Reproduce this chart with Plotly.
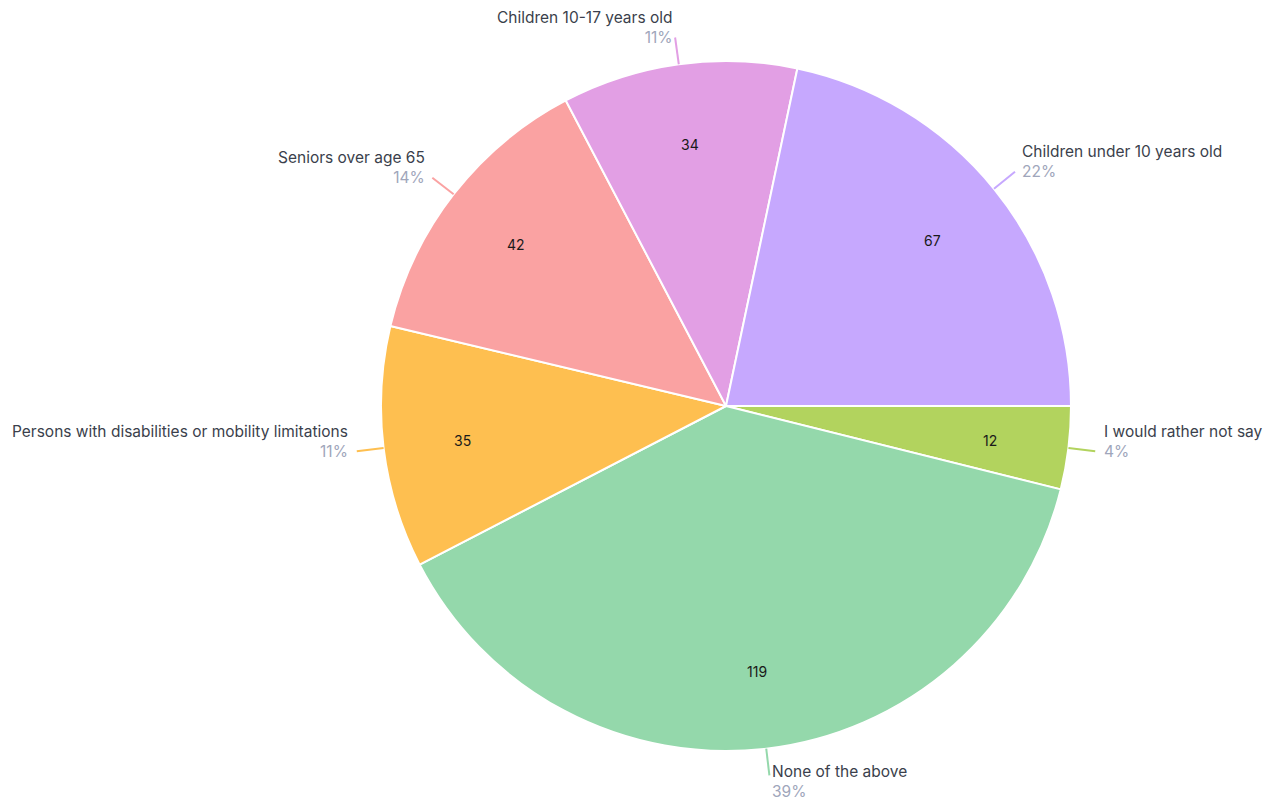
import math
import plotly.graph_objects as go

# Survey responses
labels = [
    "Children under 10 years old",
    "Children 10-17 years old",
    "Seniors over age 65",
    "Persons with disabilities or mobility limitations",
    "None of the above",
    "I would rather not say",
]
counts = [67, 34, 42, 35, 119, 12]
colors = ["#c6a8fe", "#e29fe4", "#faa2a2", "#febf50", "#94d8ab", "#b2d35e"]

W, H = 1273, 800
CX, CY, R = 726, 406, 345          # pie centre and radius in pixels
LEADER = 27                        # leader line length in pixels
VALUE_R = 0.77                     # radial position of the value labels
FONT = "Inter"

total = sum(counts)

# Slices run counterclockwise from 3 o'clock; plotly draws the reversed
# order clockwise from the same start, which gives the same layout.
fig = go.Figure(
    go.Pie(
        labels=labels[::-1],
        values=counts[::-1],
        sort=False,
        direction="clockwise",
        rotation=90,
        marker=dict(colors=colors[::-1], line=dict(color="white", width=2)),
        textinfo="none",
        hoverinfo="label+value+percent",
        showlegend=False,
        domain=dict(x=[(CX - R) / W, (CX + R) / W], y=[1 - (CY + R) / H, 1 - (CY - R) / H]),
    )
)


def px(x):
    return x / W


def py(y):
    return 1 - y / H


shapes = []
annotations = []
start = 0.0
for lab, val, col in zip(labels, counts, colors):
    span = 360.0 * val / total
    mid = math.radians(start + span / 2)
    start += span
    c, s = math.cos(mid), math.sin(mid)

    # value inside the slice
    annotations.append(dict(
        xref="paper", yref="paper",
        x=px(CX + VALUE_R * R * c), y=py(CY - VALUE_R * R * s + 2),
        xanchor="center", yanchor="middle", showarrow=False,
        text=str(val), font=dict(family=FONT, size=14, color="#1a1a1a"),
    ))

    # leader line and outside label
    x0, y0 = CX + R * c, CY - R * s
    x1, y1 = CX + (R + LEADER) * c, CY - (R + LEADER) * s
    shapes.append(dict(type="line", xref="paper", yref="paper",
                       x0=px(x0), y0=py(y0), x1=px(x1), y1=py(y1),
                       line=dict(color=col, width=2)))
    pct = round(100 * val / total)
    right = c >= 0
    xoff = 7 * abs(c)
    tx = x1 + xoff if right else x1 - xoff
    ty = y1 + 6 if s < -0.9 else y1 - 10
    annotations.append(dict(
        xref="paper", yref="paper", x=px(tx), y=py(ty),
        xanchor="left" if right else "right", yanchor="middle",
        align="left" if right else "right",
        showarrow=False,
        text=f"<span style='color:#3b3f4c'>{lab}</span><br><span style='color:#a0a6bb'>{pct}%</span>",
        font=dict(family=FONT, size=15.5),
    ))

fig.update_layout(
    width=W, height=H,
    margin=dict(l=0, r=0, t=0, b=0),
    paper_bgcolor="white",
    plot_bgcolor="white",
    shapes=shapes,
    annotations=annotations,
)

fig.write_html("out.html")
